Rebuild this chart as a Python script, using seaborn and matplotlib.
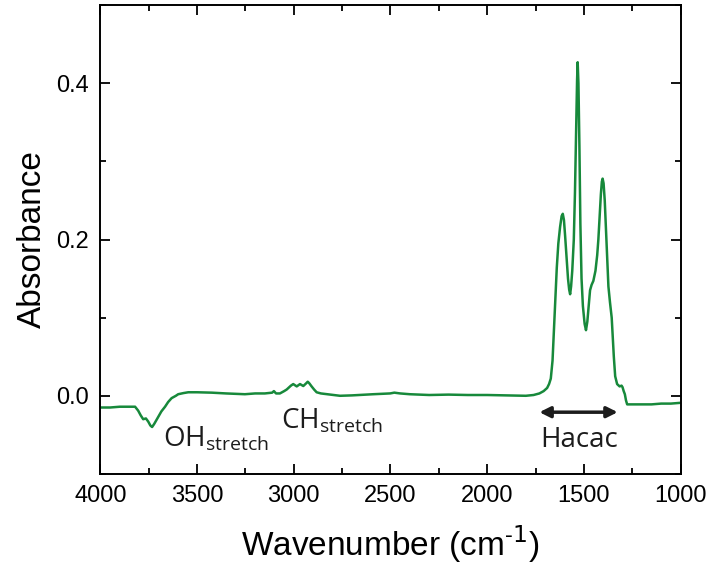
import numpy as np
import pandas as pd
import matplotlib
matplotlib.use('Agg')
import matplotlib.pyplot as plt
import seaborn as sns
from matplotlib.ticker import MultipleLocator

# IR spectrum (wavenumber in cm-1, absorbance)
wavenumber = [4000, 3950, 3900, 3850, 3821, 3805, 3792, 3779, 3765, 3753, 3742, 3733,
              3722, 3701, 3685, 3666, 3650, 3632, 3610, 3598, 3570, 3546, 3500, 3425,
              3350, 3253, 3200, 3150, 3112, 3103, 3092, 3072, 3050, 3037, 3015, 3003,
              2985, 2968, 2951, 2936, 2928, 2920, 2908, 2895, 2882, 2860, 2830, 2761,
              2700, 2589, 2502, 2480, 2450, 2400, 2300, 2200, 2100, 2000, 1900, 1800,
              1760, 1730, 1708, 1690, 1680, 1671, 1662, 1655, 1648, 1640, 1632, 1623,
              1615, 1609, 1603, 1597, 1590, 1582, 1576, 1571, 1566, 1560, 1552, 1546,
              1540, 1535, 1532, 1528, 1523, 1518, 1512, 1505, 1496, 1489, 1482, 1475,
              1468, 1460, 1451, 1440, 1431, 1425, 1418, 1412, 1407, 1403, 1398, 1392,
              1386, 1380, 1373, 1365, 1356, 1345, 1338, 1328, 1315, 1305, 1300, 1294,
              1288, 1282, 1276, 1250, 1200, 1150, 1100, 1050, 1000]
absorbance = [-0.015, -0.015, -0.014, -0.014, -0.014, -0.019, -0.025, -0.030, -0.029, -0.033, -0.038, -0.040,
              -0.036, -0.027, -0.020, -0.014, -0.008, -0.003, 0.000, 0.002, 0.0035, 0.0045, 0.0045, 0.004,
              0.003, 0.002, 0.003, 0.003, 0.004, 0.006, 0.003, 0.003, 0.006, 0.008, 0.013, 0.015,
              0.012, 0.015, 0.0125, 0.016, 0.018, 0.016, 0.012, 0.008, 0.0045, 0.003, 0.002, 0.000,
              0.0005, 0.002, 0.003, 0.004, 0.003, 0.002, 0.001, 0.0015, 0.001, 0.001, 0.0005, 0.000,
              0.001, 0.003, 0.006, 0.010, 0.015, 0.022, 0.045, 0.080, 0.120, 0.164, 0.195, 0.216,
              0.230, 0.233, 0.225, 0.205, 0.180, 0.150, 0.136, 0.130, 0.140, 0.160, 0.200, 0.260,
              0.340, 0.405, 0.427, 0.400, 0.320, 0.220, 0.150, 0.115, 0.092, 0.084, 0.095, 0.115,
              0.135, 0.142, 0.147, 0.160, 0.180, 0.200, 0.230, 0.258, 0.274, 0.278, 0.272, 0.250,
              0.215, 0.180, 0.140, 0.120, 0.100, 0.050, 0.025, 0.015, 0.012, 0.013, 0.011, 0.006,
              0.002, -0.006, -0.011, -0.011, -0.011, -0.011, -0.010, -0.010, -0.009]

spectrum = pd.DataFrame({'wavenumber': wavenumber, 'absorbance': absorbance})

sns.set_style('ticks')
plt.rcParams['font.family'] = ['Liberation Sans', 'DejaVu Sans']

fig = plt.figure(figsize=(7.1, 5.67), dpi=100)
ax = fig.add_axes([0.1415, 0.1642, 0.817, 0.8266])

sns.lineplot(data=spectrum, x='wavenumber', y='absorbance', color='#17893b',
             linewidth=1.8, ax=ax, estimator=None)

ax.set_xlim(4000, 1000)
ax.set_ylim(-0.1, 0.5)
ax.xaxis.set_major_locator(MultipleLocator(500))
ax.xaxis.set_minor_locator(MultipleLocator(250))
ax.yaxis.set_major_locator(MultipleLocator(0.2))
ax.yaxis.set_minor_locator(MultipleLocator(0.1))
ax.tick_params(which='both', direction='in', top=True, right=True, color='black', width=1.3,
               labelcolor='black')
ax.tick_params(which='major', length=7, labelsize=17, pad=8)
ax.tick_params(which='minor', length=4)
for s in ax.spines.values():
    s.set_color('black')
    s.set_linewidth(1.4)

ax.set_xlabel('Wavenumber (cm$^{\\mathregular{\u2010}1}$)', fontsize=24, labelpad=12, color='black')
ax.set_ylabel('Absorbance', fontsize=24, labelpad=6, color='black')

# peak annotations
ann = dict(fontsize=20, color='#1c1c1c', family=['Open Sans', 'DejaVu Sans'])
ax.text(3678, -0.064, 'OH$_{\\mathregular{stretch}}$', ha='left', va='baseline', **ann)
ax.text(3068, -0.041, 'CH$_{\\mathregular{stretch}}$', ha='left', va='baseline', **ann)
ax.text(1522, -0.065, 'Hacac', ha='center', va='baseline', **ann)
ax.annotate('', xy=(1325, -0.021), xytext=(1730, -0.021),
            arrowprops=dict(arrowstyle='<|-|>', color='#1c1c1c', lw=2.5, mutation_scale=16,
                            shrinkA=0, shrinkB=0))

fig.savefig('out.png', dpi=100)
